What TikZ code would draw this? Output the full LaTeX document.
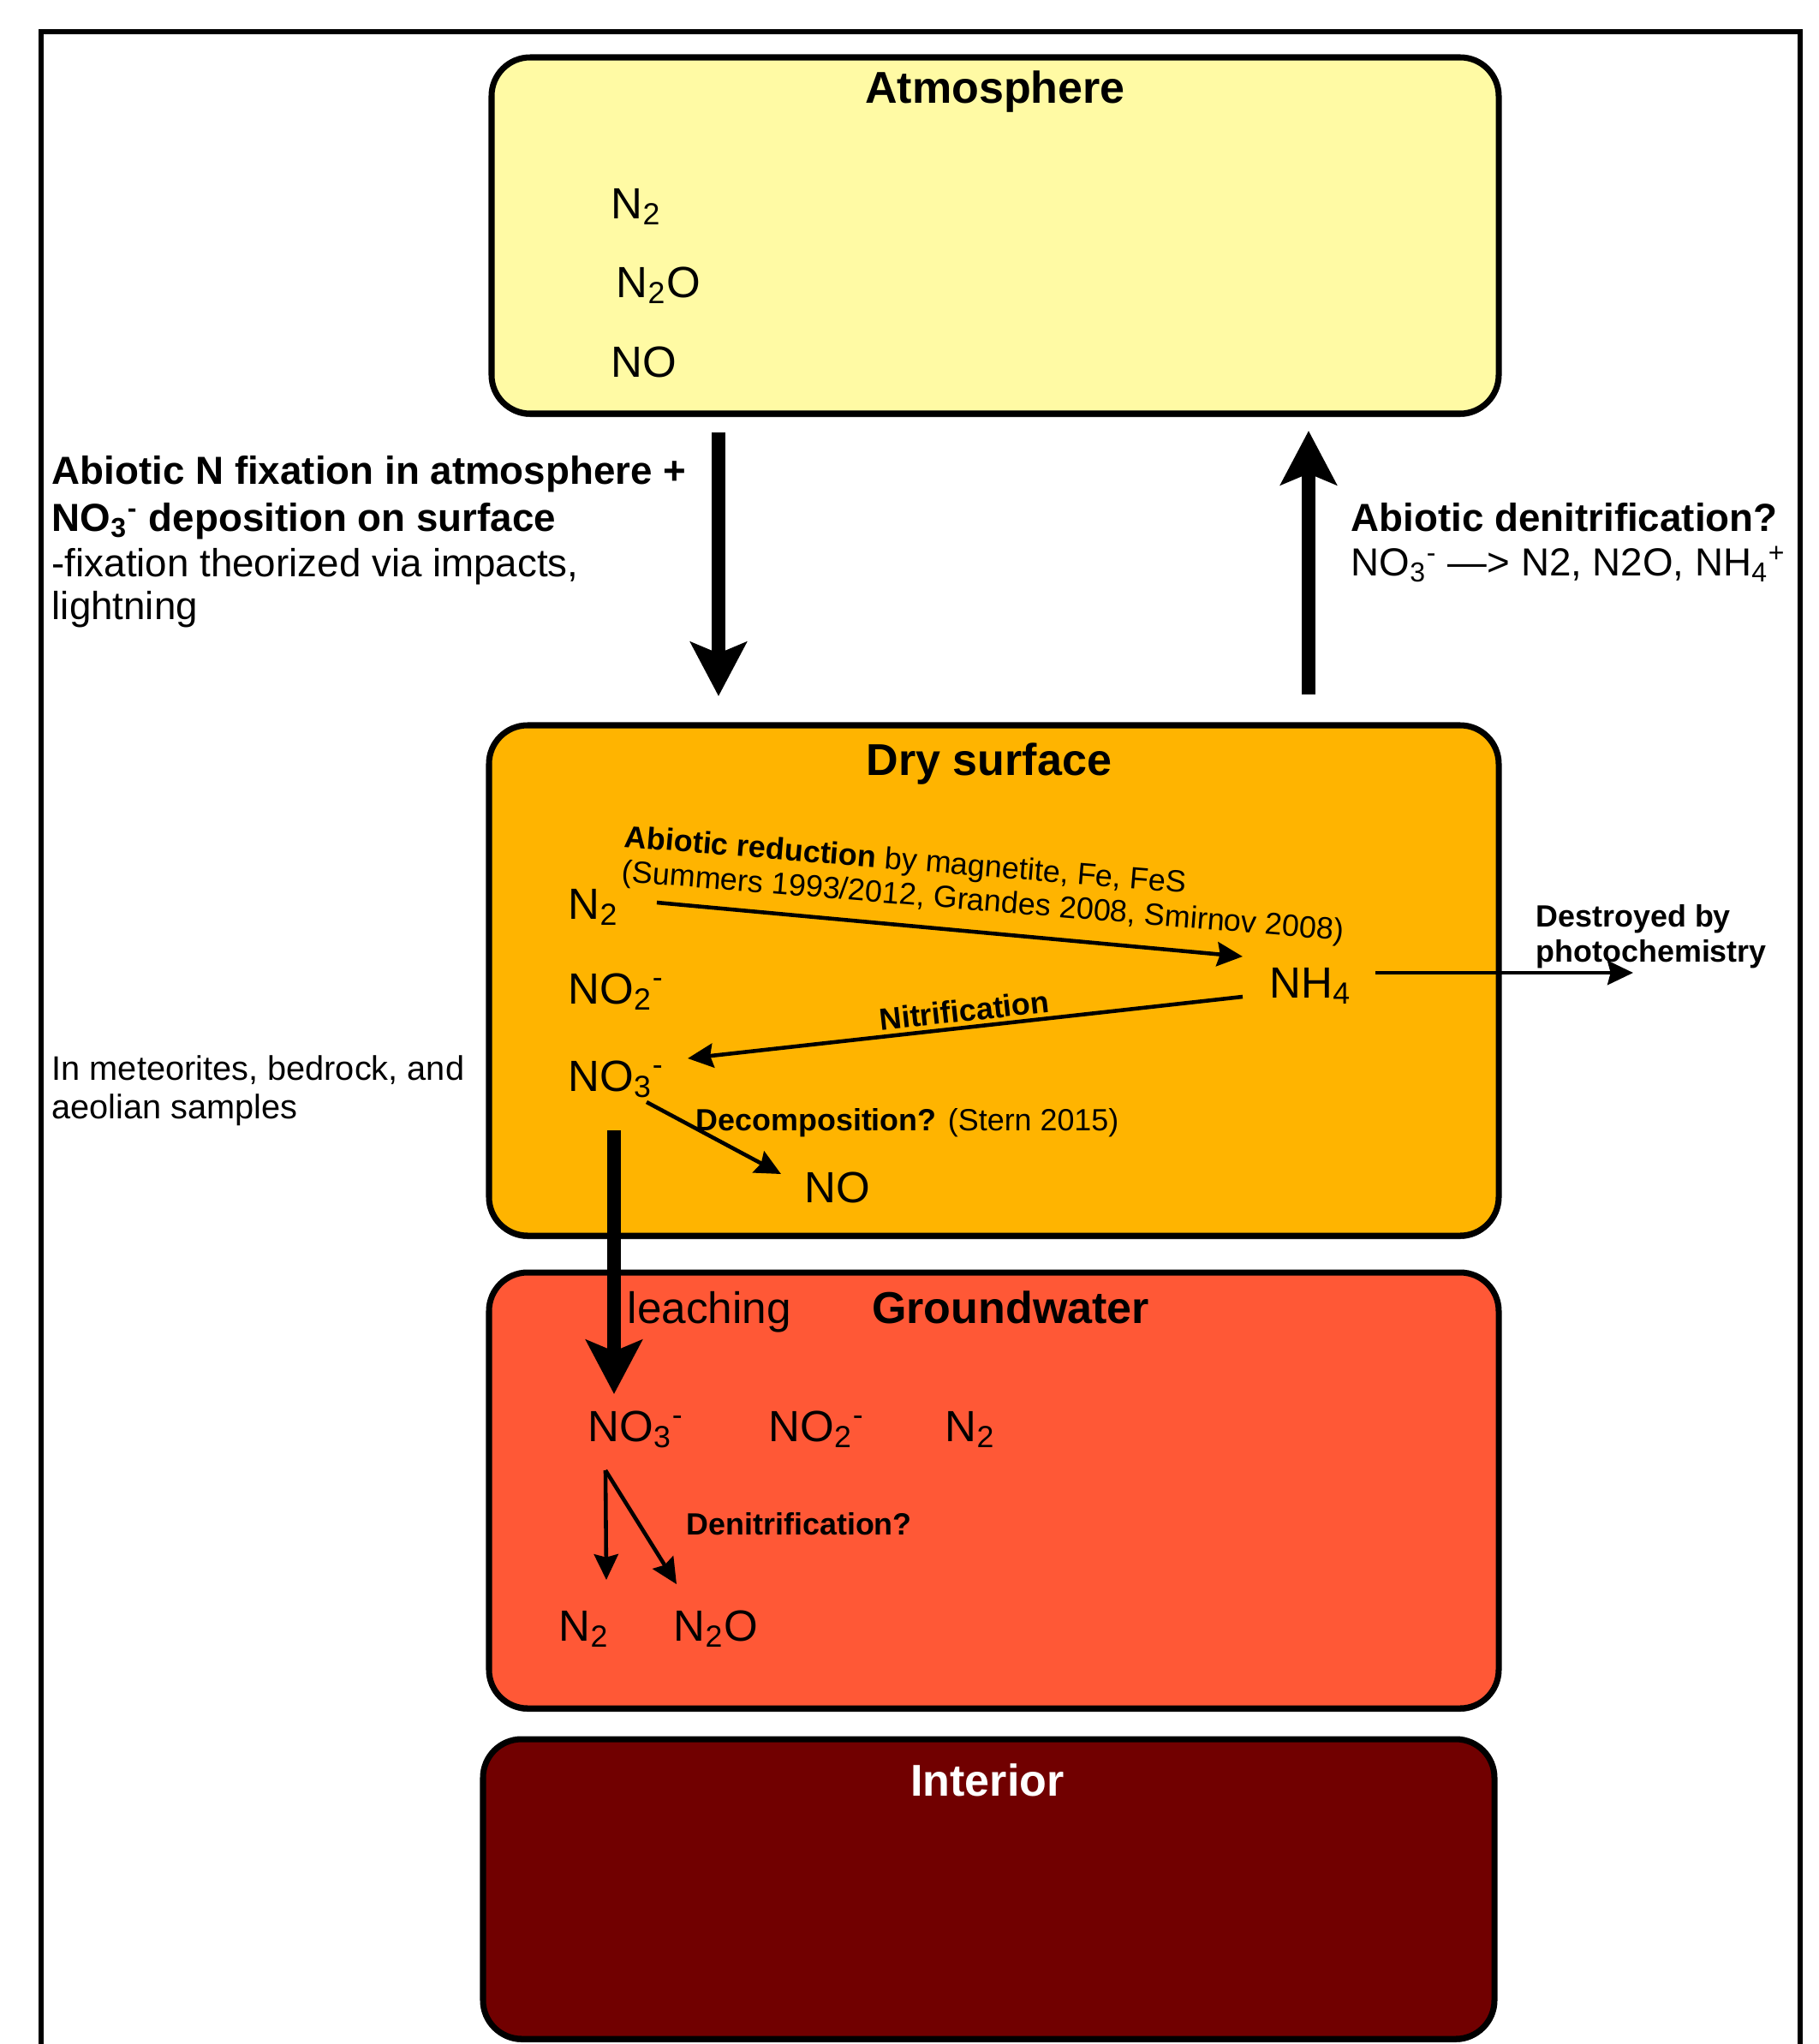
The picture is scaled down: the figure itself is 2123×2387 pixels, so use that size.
\documentclass[tikz,border=0pt]{standalone}
\usepackage{fontspec}
\setmainfont{Liberation Sans}
\usetikzlibrary{arrows.meta}
\definecolor{atmc}{RGB}{255,250,164}
\definecolor{dryc}{RGB}{255,180,0}
\definecolor{gwc}{RGB}{255,88,54}
\definecolor{intc}{RGB}{113,0,0}
\newcommand\sbs[1]{\textsubscript{#1}}
\newcommand\sps[1]{\textsuperscript{#1}}
\begin{document}
\begin{tikzpicture}[x=0.01cm,y=-0.01cm,
  layerbox/.style={draw=black, line width=2pt, rounded corners=12.8pt},
  shadowbox/.style={fill=black!75, rounded corners=12.8pt},
  titletxt/.style={font=\fontsize{14.8}{17}\selectfont\bfseries, inner sep=0pt, anchor=base},
  chem/.style={font=\fontsize{14.5}{17}\selectfont, inner sep=0pt, anchor=base west},
  side/.style={font=\fontsize{13}{15}\selectfont, inner sep=0pt, anchor=base west},
  sideb/.style={font=\fontsize{13}{15}\selectfont\bfseries, inner sep=0pt, anchor=base west},
  met/.style={font=\fontsize{11.3}{13}\selectfont, inner sep=0pt, anchor=base west},
  small/.style={font=\fontsize{10.2}{12}\selectfont, inner sep=0pt, anchor=base west},
  smallb/.style={font=\fontsize{10.2}{12}\selectfont\bfseries, inner sep=0pt, anchor=base west},
  leach/.style={font=\fontsize{14.6}{17}\selectfont, inner sep=0pt, anchor=base west},
  bigarrow/.style={line width=4.5pt, -{Stealth[length=17.9pt,width=18.5pt,inset=3.7pt]}},
  thinarrow/.style={line width=1.3pt, -{Stealth[length=8.5pt,width=8pt,inset=1pt]}},
]
\useasboundingbox (0,0) rectangle (2123,2387);
\fill[white] (0,0) rectangle (2123,2387);
% outer frame
\draw[line width=1.7pt] (48,2400) -- (48,37) -- (2102,37) -- (2102,2400);

% layer boxes
\fill[shadowbox] (574,71) rectangle (1750,487);
\draw[layerbox, fill=atmc] (574,67) rectangle (1750,483);
\fill[shadowbox] (571,851) rectangle (1750,1447);
\draw[layerbox, fill=dryc] (571,847) rectangle (1750,1443);
\fill[shadowbox] (571,1490) rectangle (1750,1999);
\draw[layerbox, fill=gwc] (571,1486) rectangle (1750,1995);
\fill[shadowbox] (564,2035) rectangle (1745,2385);
\draw[layerbox, fill=intc] (564,2031) rectangle (1745,2381);

% Atmosphere
\node[titletxt] (atmT) at (1162,120) {Atmosphere};
\node[chem] (aN2) at (713,255) {N\sbs{2}};
\node[chem] (aN2O) at (719,347) {N\sbs{2}O};
\node[chem] (aNO) at (713,440) {NO};

% left fixation text
\node[sideb] (fix1) at (60,565) {Abiotic N fixation in atmosphere +};
\node[sideb] (fix2) at (60,620) {NO\sbs{3}\sps{-} deposition on surface};
\node[side] (fix3) at (60,673) {-fixation theorized via impacts,};
\node[side] (fix4) at (60,723) {lightning};

% right denitrification text
\node[sideb] (den1) at (1577,620) {Abiotic denitrification?};
\node[side] (den2) at (1577,672) {NO\sbs{3}\sps{-} —> N2, N2O, NH\sbs{4}\sps{+}};

% big vertical arrows
\coordinate (dnS) at (839,505);
\coordinate (dnE) at (839,813);
\draw[bigarrow] (dnS) -- (dnE);
\coordinate (upS) at (1528,811);
\coordinate (upE) at (1528,503);
\draw[bigarrow] (upS) -- (upE);

% Dry surface
\node[titletxt] (dryT) at (1155,905) {Dry surface};
\node[chem] (dN2) at (663,1073) {N\sbs{2}};
\node[chem] (dNO2) at (663,1172) {NO\sbs{2}\sps{-}};
\node[chem] (dNO3) at (663,1274) {NO\sbs{3}\sps{-}};
\node[chem] (dNH4) at (1482,1165) {NH\sbs{4}};
\node[chem] (dNO) at (939,1404) {NO};

\node[small, rotate=-4.7] (red1) at (728,989) {\textbf{Abiotic reduction} by magnetite, Fe, FeS};
\node[small, rotate=-4.7] (red2) at (725,1029) {(Summers 1993/2012, Grandes 2008, Smirnov 2008)};
\coordinate (redS) at (767,1054);
\coordinate (redE) at (1451,1117);
\draw[thinarrow] (redS) -- (redE);

\coordinate (nitS) at (1451,1164);
\coordinate (nitE) at (803,1236);
\draw[thinarrow] (nitS) -- (nitE);
\node[smallb, anchor=center, rotate=6.3] (nitL) at (1126,1180) {Nitrification};

\coordinate (decS) at (755,1287);
\coordinate (decE) at (912,1371);
\draw[thinarrow] (decS) -- (decE);
\node[small] (decL) at (812,1320) {\textbf{Decomposition?} (Stern 2015)};

% photochemistry
\coordinate (phS) at (1606,1136);
\coordinate (phE) at (1907,1136);
\draw[thinarrow] (phS) -- (phE);
\node[smallb] (ph1) at (1793,1082) {Destroyed by};
\node[smallb] (ph2) at (1793,1123) {photochemistry};

% meteorites
\node[met] (met1) at (60,1261) {In meteorites, bedrock, and};
\node[met] (met2) at (60,1306) {aeolian samples};

% leaching
\coordinate (leS) at (717,1320);
\coordinate (leE) at (717,1628);
\draw[bigarrow] (leS) -- (leE);
\node[leach] (leachL) at (732,1545) {leaching};

% Groundwater
\node[titletxt] (gwT) at (1180,1545) {Groundwater};
\node[chem] (gNO3) at (686,1683) {NO\sbs{3}\sps{-}};
\node[chem] (gNO2) at (897,1683) {NO\sbs{2}\sps{-}};
\node[chem] (gN2) at (1103,1683) {N\sbs{2}};
\coordinate (dnO) at (707,1717);
\coordinate (dnA) at (708,1845);
\coordinate (dnB) at (790,1850);
\draw[thinarrow] (dnO) -- (dnA);
\draw[thinarrow] (dnO) -- (dnB);
\node[smallb] (denL) at (801,1792) {Denitrification?};
\node[chem] (gbN2) at (652,1916) {N\sbs{2}};
\node[chem] (gbN2O) at (786,1916) {N\sbs{2}O};

% Interior
\node[titletxt, text=white] (intT) at (1153,2097) {Interior};
\end{tikzpicture}
\end{document}
